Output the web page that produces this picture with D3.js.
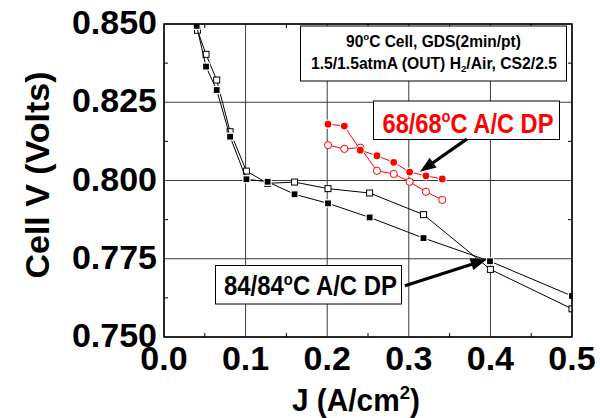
<!DOCTYPE html>
<html><head><meta charset="utf-8">
<script src="https://cdn.jsdelivr.net/npm/d3@7"></script>
<style>body{margin:0;background:#fff}svg{display:block}text{font-family:"Liberation Sans",Arial,sans-serif}</style>
</head><body>
<svg id="c" width="600" height="418"></svg>
<script>
const xTicks=[0,0.1,0.2,0.3,0.4,0.5];
const yTicks=[0.750,0.775,0.800,0.825,0.850];
const xMinor=[0.05,0.15,0.25,0.35,0.45];
const yMinor=[0.7625,0.7875,0.8125,0.8375];
const J84open=[0.041,0.0515,0.0646,0.081,0.101,0.127,0.160,0.201,0.252,0.318,0.400,0.500];
const V84open=[0.8480,0.8403,0.8321,0.8156,0.8030,0.7991,0.7995,0.7974,0.7960,0.7891,0.7716,0.7590];
const J84fill=[0.040,0.0515,0.0646,0.081,0.101,0.127,0.160,0.201,0.252,0.318,0.3995,0.500];
const V84fill=[0.8494,0.8364,0.8289,0.8140,0.8004,0.7996,0.7956,0.7927,0.7882,0.7816,0.7742,0.7631];
const J68=[0.201,0.221,0.2406,0.261,0.2815,0.301,0.321,0.341];
const V68fill=[0.8180,0.8174,0.8097,0.8079,0.8058,0.8027,0.8015,0.8005];
const V68open=[0.8113,0.8101,0.8105,0.8031,0.8021,0.7996,0.7964,0.7938];
const infoLine1=[{t:"90"},{t:"o",s:"sup"},{t:"C Cell, GDS(2min/pt)"}];
const infoLine2=[{t:"1.5/1.5atmA (OUT) H"},{t:"2",s:"sub"},{t:"/Air, CS2/2.5"}];
const label68=[{t:"68/68"},{t:"o",s:"sup"},{t:"C A/C DP"}];
const label84=[{t:"84/84"},{t:"o",s:"sup"},{t:"C A/C DP"}];
const xTitle=[{t:"J (A/cm"},{t:"2",s:"sup"},{t:")"}];
const yTitle="Cell V (Volts)";
// arrows in data units: [J0,V0,J1,V1] (tail -> tip)
const arrow68=[0.371,0.8132,0.3137,0.8028];
const arrow84=[0.2953,0.7664,0.3955,0.7748];

const W=600,H=418,m={l:164,t:24,r:28,b:81};
const svg=d3.select("#c");
const x=d3.scaleLinear().domain([0,0.5]).range([m.l,W-m.r]);
const y=d3.scaleLinear().domain([0.75,0.85]).range([H-m.b,m.t]);

svg.append("defs").append("clipPath").attr("id","clip").append("rect")
  .attr("x",m.l).attr("y",m.t).attr("width",W-m.l-m.r).attr("height",H-m.t-m.b);

// grid
const g=svg.append("g");
g.selectAll(".gx").data(xTicks).join("line").attr("x1",d=>x(d)).attr("x2",d=>x(d))
  .attr("y1",m.t).attr("y2",H-m.b).attr("stroke","#3a3a3a").attr("stroke-width",1);
g.selectAll(".gy").data(yTicks).join("line").attr("y1",d=>y(d)).attr("y2",d=>y(d))
  .attr("x1",m.l).attr("x2",W-m.r).attr("stroke","#3a3a3a").attr("stroke-width",1);
// minor ticks inward
g.selectAll(".mx").data(xMinor).join("line").attr("x1",d=>x(d)).attr("x2",d=>x(d))
  .attr("y1",H-m.b).attr("y2",H-m.b-4).attr("stroke","#000");
g.selectAll(".mx2").data(xMinor).join("line").attr("x1",d=>x(d)).attr("x2",d=>x(d))
  .attr("y1",m.t).attr("y2",m.t+4).attr("stroke","#000");
g.selectAll(".my").data(yMinor).join("line").attr("y1",d=>y(d)).attr("y2",d=>y(d))
  .attr("x1",m.l).attr("x2",m.l+4).attr("stroke","#000");
g.selectAll(".my2").data(yMinor).join("line").attr("y1",d=>y(d)).attr("y2",d=>y(d))
  .attr("x1",W-m.r).attr("x2",W-m.r-4).attr("stroke","#000");

// rich text placed at (x0,y0) (left, baseline) and scaled horizontally to width w
function rich(parent,x0,y0,parts,size,w,attrs){
  const t=parent.append("text").attr("x",0).attr("y",0);
  Object.entries(attrs||{}).forEach(([k,v])=>t.attr(k,v));
  parts.forEach((p,i)=>{
    const prev=i>0?parts[i-1].s:null;
    let dy=0;
    if(prev==="sup") dy+=size*0.38; if(prev==="sub") dy-=size*0.22;
    if(p.s==="sup") dy-=size*0.38; if(p.s==="sub") dy+=size*0.22;
    t.append("tspan").attr("dy",dy).attr("font-size",p.s?size*0.62:size).text(p.t);
  });
  const bw=t.node().getComputedTextLength();
  const sx=w?w/bw:1;
  t.attr("transform",`translate(${x0},${y0}) scale(${sx},1)`);
  return t;
}

// info box
const ann=svg.append("g");
function box(par,x0,y0,x1,y1){par.append("rect").attr("x",x0).attr("y",y0).attr("width",x1-x0).attr("height",y1-y0)
  .attr("fill","#fff").attr("stroke","#000").attr("stroke-width",1);}
box(ann,300.5,26,566.5,81);
rich(ann,346,46.5,infoLine1,16,175,{"font-weight":"bold",fill:"#000"});
rich(ann,311,68.5,infoLine2,16,246,{"font-weight":"bold",fill:"#000"});

// data
const plot=svg.append("g").attr("clip-path","url(#clip)");
const line=d3.line();
function series(J,V,color,shape,filled){
  const pts=J.map((d,i)=>[x(d),y(V[i])]);
  plot.append("path").attr("d",line(pts)).attr("fill","none").attr("stroke",color).attr("stroke-width",1);
  const mk=plot.append("g");
  pts.forEach(p=>{
    if(shape==="sq"){
      const s=filled?7:6;
      mk.append("rect").attr("x",p[0]-s/2).attr("y",p[1]-s/2).attr("width",s).attr("height",s)
        .attr("fill",filled?color:"#fff").attr("stroke",filled?"#fff":color).attr("stroke-width",filled?1.2:1);
    } else {
      const r=filled?4:3.6;
      mk.append("circle").attr("cx",p[0]).attr("cy",p[1]).attr("r",r)
        .attr("fill",filled?color:"#fff").attr("stroke",filled?"#fff":color).attr("stroke-width",filled?1.2:1);
    }
  });
}
series(J84open,V84open,"#000","sq",false);
series(J84fill,V84fill,"#000","sq",true);
series(J68,V68open,"#ff0000","ci",false);
series(J68,V68fill,"#ff0000","ci",true);

// label boxes
const ann2=svg.append("g");
box(ann2,373.5,101,559.5,139.5);
rich(ann2,382.5,132.5,label68,27,171,{"font-weight":"bold",fill:"#ff0000"});
box(ann2,215.5,265.5,401.5,304);
rich(ann2,224,295,label84,27,173,{"font-weight":"bold",fill:"#000"});

function arrow(a){
  const x0=x(a[0]),y0=y(a[1]),x1=x(a[2]),y1=y(a[3]);
  const dx=x1-x0,dy=y1-y0,L=Math.hypot(dx,dy),ux=dx/L,uy=dy/L;
  const hl=16,hw=6;
  const bx=x1-ux*hl,by=y1-uy*hl;
  ann2.append("line").attr("x1",x0).attr("y1",y0).attr("x2",bx+ux*2).attr("y2",by+uy*2)
    .attr("stroke","#000").attr("stroke-width",3.2);
  ann2.append("path").attr("d",`M${x1},${y1}L${bx-uy*hw},${by+ux*hw}L${bx+uy*hw},${by-ux*hw}Z`).attr("fill","#000");
}
arrow(arrow68); arrow(arrow84);

// frame
svg.append("rect").attr("x",m.l).attr("y",m.t).attr("width",W-m.l-m.r).attr("height",H-m.t-m.b)
  .attr("fill","none").attr("stroke","#000").attr("stroke-width",1.5);

// tick labels
svg.append("g").selectAll("text").data(yTicks).join("text")
  .attr("x",157).attr("y",d=>y(d)+10).attr("text-anchor","end").attr("font-weight","bold")
  .attr("font-size",34).text(d=>d3.format(".3f")(d));
svg.append("g").selectAll("text").data(xTicks).join("text")
  .attr("x",d=>x(d)).attr("y",370).attr("text-anchor","middle").attr("font-weight","bold")
  .attr("font-size",34).text(d=>d3.format(".1f")(d));

// titles
svg.append("text").attr("transform","translate(49,175) rotate(-90)").attr("text-anchor","middle")
  .attr("font-weight","bold").attr("font-size",34).text(yTitle);
rich(svg,292,411,xTitle,31,128,{"font-weight":"bold"});
</script>
</body></html>
